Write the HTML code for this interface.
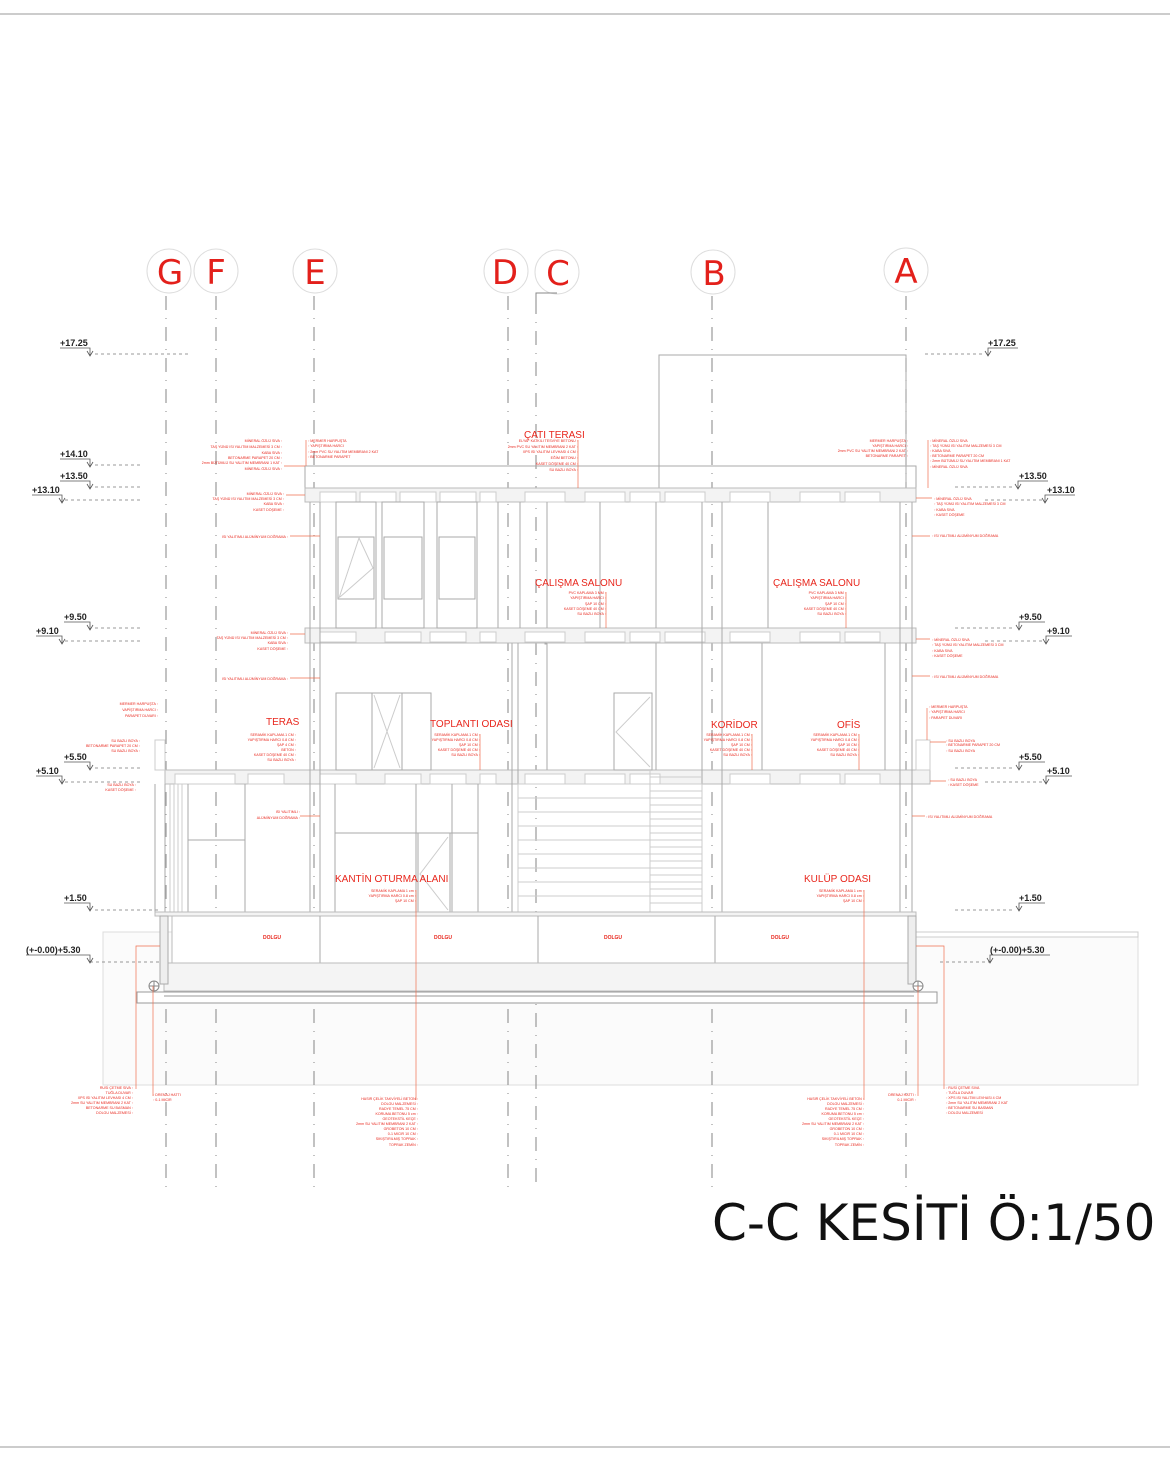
<!DOCTYPE html>
<html><head><meta charset="utf-8"><style>
html,body{margin:0;padding:0;background:#fff}
svg{display:block}
.g{stroke:#aaa;stroke-width:1;fill:none}
.l{stroke:#ccc;stroke-width:1;fill:none}
.d{stroke:#999;stroke-width:1.2;fill:none;stroke-dasharray:14 8 1 8}
.lv{stroke:#777;stroke-width:0.8;stroke-dasharray:3 3;fill:none}
.r{stroke:#f07050;stroke-width:0.7;fill:none}
.rt{fill:#e8261c;font-family:"Liberation Sans",sans-serif}
.s{font-size:3.6px;fill:#e8261c;font-family:"Liberation Sans",sans-serif}
.lt{font-family:"Liberation Sans",sans-serif;font-size:9px;font-weight:bold;fill:#222}
.gl{font-family:"DejaVu Sans","Liberation Sans",sans-serif;font-size:34px;fill:#e3201b}
</style></head><body>
<svg width="1170" height="1462" viewBox="0 0 1170 1462" xmlns="http://www.w3.org/2000/svg">
<line x1="0" y1="14" x2="1170" y2="14" stroke="#999"/>
<line x1="0" y1="1447" x2="1170" y2="1447" stroke="#999"/>

<!-- soil -->
<rect x="103" y="932" width="1035" height="153" fill="#fbfbfb" stroke="#ddd"/>
<rect x="908" y="932" width="230" height="5" fill="#fff" stroke="#ccc"/>

<!-- grid circles -->
<g fill="#fff" stroke="#ddd">
<circle cx="169" cy="271" r="22"/><circle cx="216" cy="271" r="22"/><circle cx="315" cy="271" r="22"/>
<circle cx="506" cy="271" r="22"/><circle cx="557" cy="272" r="22"/><circle cx="713" cy="272" r="22"/><circle cx="906" cy="270" r="22"/>
</g>
<g class="gl" text-anchor="middle">
<text x="170" y="284">G</text><text x="216" y="284">F</text><text x="315" y="284">E</text>
<text x="505" y="284">D</text><text x="558" y="285">C</text><text x="714" y="285">B</text><text x="906" y="283">A</text>
</g>
<polyline points="536,300 536,293 557,293" stroke="#888" fill="none"/>
<g class="d">
<line x1="166" y1="296" x2="166" y2="1188"/><line x1="216" y1="296" x2="216" y2="1188"/>
<line x1="314" y1="296" x2="314" y2="1188"/><line x1="508" y1="296" x2="508" y2="1188"/>
<line x1="536" y1="300" x2="536" y2="1188"/><line x1="712" y1="296" x2="712" y2="1188"/>
<line x1="906" y1="296" x2="906" y2="1188"/>
</g>

<!-- levels left -->
<g class="lv">
<line x1="95" y1="354" x2="190" y2="354"/><line x1="95" y1="465" x2="140" y2="465"/>
<line x1="95" y1="487" x2="140" y2="487"/><line x1="65" y1="500" x2="140" y2="500"/>
<line x1="95" y1="628" x2="140" y2="628"/><line x1="65" y1="641" x2="140" y2="641"/>
<line x1="95" y1="768" x2="140" y2="768"/><line x1="65" y1="782" x2="140" y2="782"/>
<line x1="95" y1="910" x2="160" y2="910"/><line x1="90" y1="962" x2="160" y2="962"/>
<line x1="925" y1="354" x2="985" y2="354"/><line x1="955" y1="487" x2="1015" y2="487"/>
<line x1="985" y1="500" x2="1045" y2="500"/><line x1="955" y1="628" x2="1015" y2="628"/>
<line x1="985" y1="641" x2="1045" y2="641"/><line x1="955" y1="768" x2="1015" y2="768"/>
<line x1="985" y1="782" x2="1045" y2="782"/><line x1="955" y1="910" x2="1015" y2="910"/>
<line x1="940" y1="962" x2="990" y2="962"/>
</g>
<g stroke="#555" fill="none" stroke-width="0.8">
<path d="M60 348h30v8M87 351l3 5l3-5M60 459h30v8M87 462l3 5l3-5M60 481h30v8M87 484l3 5l3-5M32 495h30v8M59 498l3 5l3-5M64 622h26v8M87 625l3 5l3-5M36 636h26v8M59 639l3 5l3-5M64 762h26v8M87 765l3 5l3-5M36 776h26v8M59 779l3 5l3-5M64 903h26v8M87 906l3 5l3-5M26 955h64v8M87 958l3 5l3-5"/>
<path d="M1018 348h-30v8M991 351l-3 5l-3-5M1048 481h-30v8M1021 484l-3 5l-3-5M1075 495h-30v8M1048 498l-3 5l-3-5M1045 622h-26v8M1022 625l-3 5l-3-5M1072 636h-26v8M1049 639l-3 5l-3-5M1045 762h-26v8M1022 765l-3 5l-3-5M1072 776h-26v8M1049 779l-3 5l-3-5M1045 903h-26v8M1022 906l-3 5l-3-5M1050 955h-60v8M993 958l-3 5l-3-5"/>
</g>
<g class="lt">
<text x="60" y="346">+17.25</text><text x="60" y="457">+14.10</text><text x="60" y="479">+13.50</text>
<text x="32" y="493">+13.10</text><text x="64" y="620">+9.50</text><text x="36" y="634">+9.10</text>
<text x="64" y="760">+5.50</text><text x="36" y="774">+5.10</text><text x="64" y="901">+1.50</text>
<text x="26" y="953">(+-0.00)+5.30</text>
<text x="988" y="346">+17.25</text><text x="1019" y="479">+13.50</text><text x="1047" y="493">+13.10</text>
<text x="1019" y="620">+9.50</text><text x="1047" y="634">+9.10</text><text x="1019" y="760">+5.50</text>
<text x="1047" y="774">+5.10</text><text x="1019" y="901">+1.50</text><text x="990" y="953">(+-0.00)+5.30</text>
</g>

<!-- building -->
<rect x="659" y="355" width="247" height="111" class="g"/>
<rect x="305" y="466" width="354" height="22" class="g"/>
<rect x="906" y="466" width="10" height="22" class="g"/>
<rect x="305" y="488" width="611" height="14" fill="#f3f3f3" stroke="#bbb"/>
<rect x="305" y="628" width="611" height="15" fill="#f3f3f3" stroke="#bbb"/>
<rect x="165" y="770" width="765" height="14" fill="#f3f3f3" stroke="#bbb"/>
<g fill="#fff" stroke="#ccc">
<rect x="320" y="492" width="36" height="10"/><rect x="360" y="492" width="36" height="10"/><rect x="400" y="492" width="36" height="10"/><rect x="440" y="492" width="36" height="10"/><rect x="480" y="492" width="16" height="10"/><rect x="525" y="492" width="40" height="10"/><rect x="585" y="492" width="40" height="10"/><rect x="630" y="492" width="30" height="10"/><rect x="665" y="492" width="40" height="10"/><rect x="730" y="492" width="40" height="10"/><rect x="800" y="492" width="40" height="10"/><rect x="845" y="492" width="35" height="10"/>
<rect x="320" y="632" width="36" height="10"/><rect x="385" y="632" width="36" height="10"/><rect x="430" y="632" width="36" height="10"/><rect x="480" y="632" width="16" height="10"/><rect x="525" y="632" width="40" height="10"/><rect x="585" y="632" width="40" height="10"/><rect x="630" y="632" width="30" height="10"/><rect x="665" y="632" width="40" height="10"/><rect x="730" y="632" width="40" height="10"/><rect x="800" y="632" width="40" height="10"/><rect x="845" y="632" width="35" height="10"/>
<rect x="175" y="774" width="60" height="10"/><rect x="248" y="774" width="36" height="10"/><rect x="320" y="774" width="36" height="10"/><rect x="385" y="774" width="36" height="10"/><rect x="430" y="774" width="36" height="10"/><rect x="480" y="774" width="16" height="10"/><rect x="525" y="774" width="40" height="10"/><rect x="585" y="774" width="40" height="10"/><rect x="630" y="774" width="30" height="10"/><rect x="730" y="774" width="40" height="10"/><rect x="800" y="774" width="40" height="10"/><rect x="845" y="774" width="35" height="10"/>
</g>
<!-- walls -->
<g class="g">
<line x1="310" y1="502" x2="310" y2="912"/><line x1="320" y1="502" x2="320" y2="912"/>
<line x1="900" y1="502" x2="900" y2="912"/><line x1="912" y1="502" x2="912" y2="912"/>
<line x1="155" y1="784" x2="155" y2="912"/><line x1="165" y1="784" x2="165" y2="912"/>
<line x1="498" y1="502" x2="498" y2="628"/><line x1="520" y1="502" x2="520" y2="628"/>
<line x1="547" y1="502" x2="547" y2="628"/><line x1="600" y1="502" x2="600" y2="628"/><line x1="656" y1="502" x2="656" y2="628"/>
<line x1="702" y1="502" x2="702" y2="912"/><line x1="722" y1="502" x2="722" y2="912"/><line x1="768" y1="502" x2="768" y2="628"/>
<line x1="547" y1="643" x2="547" y2="770"/><line x1="656" y1="643" x2="656" y2="770"/><line x1="762" y1="643" x2="762" y2="770"/><line x1="885" y1="643" x2="885" y2="770"/>
<line x1="512" y1="643" x2="512" y2="912"/><line x1="518" y1="643" x2="518" y2="912"/>
<line x1="335" y1="784" x2="335" y2="912"/><line x1="416" y1="784" x2="416" y2="912"/><line x1="452" y1="784" x2="452" y2="912"/><line x1="478" y1="784" x2="478" y2="912"/>
<line x1="188" y1="784" x2="188" y2="912"/><line x1="245" y1="784" x2="245" y2="912"/>
<line x1="335" y1="833" x2="478" y2="833"/><line x1="188" y1="840" x2="245" y2="840"/>
</g>
<!-- windows floor3 -->
<g class="g">
<rect x="336" y="502" width="40" height="126"/><rect x="382" y="502" width="42" height="126"/><rect x="437" y="502" width="40" height="126"/>
<rect x="338" y="537" width="36" height="62"/><rect x="384" y="537" width="38" height="62"/><rect x="439" y="537" width="36" height="62"/>
<path d="M339 598l20-60l14 30l-33 29" class="l"/>
<rect x="336" y="693" width="95" height="77"/><line x1="372" y1="693" x2="372" y2="770"/><line x1="402" y1="693" x2="402" y2="770"/>
<path d="M374 695l26 73M400 695l-26 73" class="l"/>
<rect x="614" y="693" width="38" height="77"/><path d="M650 697l-34 35l34 35" class="l"/>
<rect x="418" y="833" width="32" height="79"/><path d="M448 837l-28 37l28 36" class="l"/>
<rect x="545" y="643" width="1" height="1"/>
</g>
<!-- stairs -->
<g class="l">
<rect x="518" y="784" width="184" height="128"/>
<line x1="518" y1="798" x2="702" y2="798"/><line x1="518" y1="812" x2="702" y2="812"/><line x1="518" y1="826" x2="702" y2="826"/><line x1="518" y1="840" x2="702" y2="840"/><line x1="518" y1="854" x2="702" y2="854"/><line x1="518" y1="868" x2="702" y2="868"/><line x1="518" y1="882" x2="702" y2="882"/><line x1="518" y1="896" x2="702" y2="896"/>
<line x1="650" y1="770" x2="650" y2="912"/>
<line x1="650" y1="777" x2="702" y2="777"/><line x1="650" y1="791" x2="702" y2="791"/><line x1="650" y1="805" x2="702" y2="805"/><line x1="650" y1="819" x2="702" y2="819"/><line x1="650" y1="833" x2="702" y2="833"/><line x1="650" y1="847" x2="702" y2="847"/><line x1="650" y1="861" x2="702" y2="861"/><line x1="650" y1="875" x2="702" y2="875"/><line x1="650" y1="889" x2="702" y2="889"/><line x1="650" y1="903" x2="702" y2="903"/>
<line x1="170" y1="784" x2="170" y2="912"/><line x1="174" y1="784" x2="174" y2="912"/><line x1="178" y1="784" x2="178" y2="912"/><line x1="182" y1="784" x2="182" y2="912"/>
<rect x="155" y="740" width="10" height="30"/><rect x="916" y="740" width="14" height="30"/>
</g>
<!-- foundation -->
<rect x="155" y="912" width="761" height="4" fill="#f3f3f3" stroke="#bbb"/>
<rect x="172" y="916" width="736" height="47" fill="#fff" stroke="#bbb"/>
<g class="g"><line x1="320" y1="916" x2="320" y2="963"/><line x1="538" y1="916" x2="538" y2="963"/><line x1="715" y1="916" x2="715" y2="963"/></g>
<rect x="164" y="963" width="750" height="28" fill="#f4f4f4" stroke="#bbb"/>
<rect x="137" y="992" width="800" height="11" fill="#fff" stroke="#999"/>
<line x1="164" y1="996" x2="914" y2="996" stroke="#999"/>
<rect x="160" y="916" width="8" height="68" fill="#eee" stroke="#aaa"/><rect x="908" y="916" width="8" height="68" fill="#eee" stroke="#aaa"/>
<circle cx="154" cy="986" r="5" fill="#fff" stroke="#888"/><circle cx="918" cy="986" r="5" fill="#fff" stroke="#888"/>
<path d="M149 986h10M154 981v10M913 986h10M918 981v10" stroke="#888"/>
<g class="rt" font-size="5px" font-weight="bold" text-anchor="middle">
<text x="272" y="939">DOLGU</text><text x="443" y="939">DOLGU</text><text x="613" y="939">DOLGU</text><text x="780" y="939">DOLGU</text>
</g>

<!-- room labels -->
<g class="rt" font-size="10px">
<text x="524" y="438">ÇATI TERASI</text>
<text x="535" y="586">ÇALIŞMA SALONU</text><text x="773" y="586">ÇALIŞMA SALONU</text>
<text x="266" y="725">TERAS</text><text x="430" y="727">TOPLANTI ODASI</text>
<text x="711" y="728">KORİDOR</text><text x="837" y="728">OFİS</text>
<text x="335" y="882">KANTİN OTURMA ALANI</text><text x="804" y="882">KULÜP ODASI</text>
</g>

<!-- small notes -->
<g class="s" text-anchor="end">
<text x="282" y="442">MİNERAL ÖZLÜ SIVA ◦</text><text x="282" y="448">TAŞ YÜNÜ ISI YALITIM MALZEMESİ 3 CM ◦</text><text x="282" y="454">KABA SIVA ◦</text><text x="282" y="459">BETONARME PARAPET 20 CM ◦</text><text x="282" y="464">2mm BÜTÜMLÜ SU YALITIM MEMBRANI 1 KAT ◦</text><text x="282" y="470">MİNERAL ÖZLÜ SIVA ◦</text>
<text x="284" y="495">MİNERAL ÖZLÜ SIVA ◦</text><text x="284" y="500">TAŞ YÜNÜ ISI YALITIM MALZEMESİ 3 CM ◦</text><text x="284" y="505">KABA SIVA ◦</text><text x="284" y="511">KASET DÖŞEME ◦</text>
<text x="288" y="538">ISI YALITIMLI ALÜMİNYUM DOĞRAMA ◦</text>
<text x="288" y="634">MİNERAL ÖZLÜ SIVA ◦</text><text x="288" y="639">TAŞ YÜNÜ ISI YALITIM MALZEMESİ 3 CM ◦</text><text x="288" y="644">KABA SIVA ◦</text><text x="288" y="650">KASET DÖŞEME ◦</text>
<text x="288" y="680">ISI YALITIMLI ALÜMİNYUM DOĞRAMA ◦</text>
<text x="158" y="705">MERMER HARPUŞTA ◦</text><text x="158" y="711">VAPİŞTIRMA HARCI ◦</text><text x="158" y="717">PARAPET DUVARI ◦</text>
<text x="140" y="742">SU BAZLI BOYA ◦</text><text x="140" y="747">BETONARME PARAPET 20 CM ◦</text><text x="140" y="752">SU BAZLI BOYA ◦</text>
<text x="136" y="786">SU BAZLI BOYA ◦</text><text x="136" y="791">KASET DÖŞEME ◦</text>
<text x="300" y="813">ISI YALITIMLI ◦</text><text x="300" y="819">ALÜMİNYUM DOĞRAMA ◦</text>
<text x="296" y="736">SERAMİK KAPLAMA 1 CM ◦</text><text x="296" y="741">YAPIŞTIRMA HARCI 0.8 CM ◦</text><text x="296" y="746">ŞAP 4 CM ◦</text><text x="296" y="751">BETON ◦</text><text x="296" y="756">KASET DÖŞEME 40 CM ◦</text><text x="296" y="761">SU BAZLI BOYA ◦</text>
<text x="578" y="442">ELYAF KATKILI TESVİYE BETONU ◦</text><text x="578" y="448">2mm PVC SU YALITIM MEMBRANI 2 KAT ◦</text><text x="578" y="453">XPS ISI YALITIM LEVHASI 4 CM ◦</text><text x="578" y="459">EĞİM BETONU ◦</text><text x="578" y="465">KASET DÖŞEME 40 CM ◦</text><text x="578" y="471">SU BAZLI BOYA ◦</text>
<text x="606" y="594">PVC KAPLAMA 3 MM ◦</text><text x="606" y="599">YAPIŞTIRMA HARCI ◦</text><text x="606" y="605">ŞAP 10 CM ◦</text><text x="606" y="610">KASET DÖŞEME 40 CM ◦</text><text x="606" y="615">SU BAZLI BOYA ◦</text>
<text x="846" y="594">PVC KAPLAMA 3 MM ◦</text><text x="846" y="599">YAPIŞTIRMA HARCI ◦</text><text x="846" y="605">ŞAP 10 CM ◦</text><text x="846" y="610">KASET DÖŞEME 40 CM ◦</text><text x="846" y="615">SU BAZLI BOYA ◦</text>
<text x="480" y="736">SERAMİK KAPLAMA 1 CM ◦</text><text x="480" y="741">YAPIŞTIRMA HARCI 0.8 CM ◦</text><text x="480" y="746">ŞAP 10 CM ◦</text><text x="480" y="751">KASET DÖŞEME 40 CM ◦</text><text x="480" y="756">SU BAZLI BOYA ◦</text>
<text x="752" y="736">SERAMİK KAPLAMA 1 CM ◦</text><text x="752" y="741">YAPIŞTIRMA HARCI 0.8 CM ◦</text><text x="752" y="746">ŞAP 10 CM ◦</text><text x="752" y="751">KASET DÖŞEME 40 CM ◦</text><text x="752" y="756">SU BAZLI BOYA ◦</text>
<text x="859" y="736">SERAMİK KAPLAMA 1 CM ◦</text><text x="859" y="741">YAPIŞTIRMA HARCI 0.8 CM ◦</text><text x="859" y="746">ŞAP 10 CM ◦</text><text x="859" y="751">KASET DÖŞEME 40 CM ◦</text><text x="859" y="756">SU BAZLI BOYA ◦</text>
<text x="908" y="442">MERMER HARPUŞTA ◦</text><text x="908" y="447">YAPIŞTIRMA HARCI ◦</text><text x="908" y="452">2mm PVC SU YALITIM MEMBRANI 2 KAT ◦</text><text x="908" y="457">BETONARME PARAPET ◦</text>
<text x="416" y="892">SERAMİK KAPLAMA 1 cm ◦</text><text x="416" y="897">YAPIŞTIRMA HARCI 0.8 cm ◦</text><text x="416" y="902">ŞAP 10 CM ◦</text>
<text x="864" y="892">SERAMİK KAPLAMA 1 cm ◦</text><text x="864" y="897">YAPIŞTIRMA HARCI 0.8 cm ◦</text><text x="864" y="902">ŞAP 10 CM ◦</text>
<text x="133" y="1089">RUSİ ÇETME SIVA ◦</text><text x="133" y="1094">TUĞLA DUVAR ◦</text><text x="133" y="1099">XPS ISI YALITIM LEVHASI 4 CM ◦</text><text x="133" y="1104">2mm SU YALITIM MEMBRANI 2 KAT ◦</text><text x="133" y="1109">BETONARME SU BASMAN ◦</text><text x="133" y="1114">DOLGU MALZEMESİ ◦</text>
<text x="418" y="1100">HASIR ÇELİK TAKVİYELİ BETON ◦</text><text x="418" y="1105">DOLGU MALZEMESİ ◦</text><text x="418" y="1110">RADYE TEMEL 75 CM ◦</text><text x="418" y="1115">KORUMA BETONU 5 cm ◦</text><text x="418" y="1120">GEOTEKSTİL KEÇE ◦</text><text x="418" y="1125">2mm SU YALITIM MEMBRANI 2 KAT ◦</text><text x="418" y="1130">GROBETON 10 CM ◦</text><text x="418" y="1135">0-1 MICIR 10 CM ◦</text><text x="418" y="1140">SIKIŞTIRILMIŞ TOPRAK ◦</text><text x="418" y="1146">TOPRAK ZEMİN ◦</text>
<text x="864" y="1100">HASIR ÇELİK TAKVİYELİ BETON ◦</text><text x="864" y="1105">DOLGU MALZEMESİ ◦</text><text x="864" y="1110">RADYE TEMEL 75 CM ◦</text><text x="864" y="1115">KORUMA BETONU 5 cm ◦</text><text x="864" y="1120">GEOTEKSTİL KEÇE ◦</text><text x="864" y="1125">2mm SU YALITIM MEMBRANI 2 KAT ◦</text><text x="864" y="1130">GROBETON 10 CM ◦</text><text x="864" y="1135">0-1 MICIR 10 CM ◦</text><text x="864" y="1140">SIKIŞTIRILMIŞ TOPRAK ◦</text><text x="864" y="1146">TOPRAK ZEMİN ◦</text>
<text x="916" y="1096">DRENAJ HATTI ◦</text><text x="916" y="1101">0-1 MICIR ◦</text>
</g>
<g class="s">
<text x="308" y="442">◦ MERMER HARPUŞTA</text><text x="308" y="447">◦ YAPIŞTIRMA HARCI</text><text x="308" y="453">◦ 2mm PVC SU YALITIM MEMBRANI 2 KAT</text><text x="308" y="458">◦ BETONARME PARAPET</text>
<text x="930" y="442">◦ MİNERAL ÖZLÜ SIVA</text><text x="930" y="447">◦ TAŞ YÜNÜ ISI YALITIM MALZEMESİ 3 CM</text><text x="930" y="452">◦ KABA SIVA</text><text x="930" y="457">◦ BETONARME PARAPET 20 CM</text><text x="930" y="462">◦ 2mm BÜTÜMLÜ SU YALITIM MEMBRANI 1 KAT</text><text x="930" y="468">◦ MİNERAL ÖZLÜ SIVA</text>
<text x="934" y="500">◦ MİNERAL ÖZLÜ SIVA</text><text x="934" y="505">◦ TAŞ YÜNÜ ISI YALITIM MALZEMESİ 3 CM</text><text x="934" y="511">◦ KABA SIVA</text><text x="934" y="516">◦ KASET DÖŞEME</text>
<text x="932" y="537">◦ ISI YALITIMLI ALÜMİNYUM DOĞRAMA</text>
<text x="932" y="641">◦ MİNERAL ÖZLÜ SIVA</text><text x="932" y="646">◦ TAŞ YÜNÜ ISI YALITIM MALZEMESİ 3 CM</text><text x="932" y="652">◦ KABA SIVA</text><text x="932" y="657">◦ KASET DÖŞEME</text>
<text x="932" y="678">◦ ISI YALITIMLI ALÜMİNYUM DOĞRAMA</text>
<text x="929" y="708">◦ MERMER HARPUŞTA</text><text x="929" y="713">◦ YAPIŞTIRMA HARCI</text><text x="929" y="719">◦ PARAPET DUVARI</text>
<text x="946" y="742">◦ SU BAZLI BOYA</text><text x="946" y="746">◦ BETONARME PARAPET 20 CM</text><text x="946" y="752">◦ SU BAZLI BOYA</text>
<text x="948" y="781">◦ SU BAZLI BOYA</text><text x="948" y="786">◦ KASET DÖŞEME</text>
<text x="926" y="818">◦ ISI YALITIMLI ALÜMİNYUM DOĞRAMA</text>
<text x="946" y="1089">◦ RUSİ ÇETME SIVA</text><text x="946" y="1094">◦ TUĞLA DUVAR</text><text x="946" y="1099">◦ XPS ISI YALITIM LEVHASI 4 CM</text><text x="946" y="1104">◦ 2mm SU YALITIM MEMBRANI 2 KAT</text><text x="946" y="1109">◦ BETONARME SU BASMAN</text><text x="946" y="1114">◦ DOLGU MALZEMESİ</text>
<text x="153" y="1096">◦ DRENAJ HATTI</text><text x="153" y="1101">◦ 0-1 MICIR</text>
</g>
<g class="r">
<path d="M284 466H305M286 495H305M290 536H320M290 634H305M290 678H320M300 816H320M578 440V488M606 592V628M846 592V628M480 734V770M752 734V770M859 734V770M416 890V1100M864 890V1100M306 440V466M928 440V488M932 498H916M930 536H912M930 639H916M930 676H912M927 708V740M946 742H930M946 781H930M925 816H912M136 1089V946H160M944 1089V946H916M153 1096V986M918 1096V986"/>
</g>

<text x="712" y="1240" font-family="'DejaVu Sans','Liberation Sans',sans-serif" font-size="50" fill="#111">C-C  KESİTİ Ö:1/50</text>
</svg>
</body></html>
